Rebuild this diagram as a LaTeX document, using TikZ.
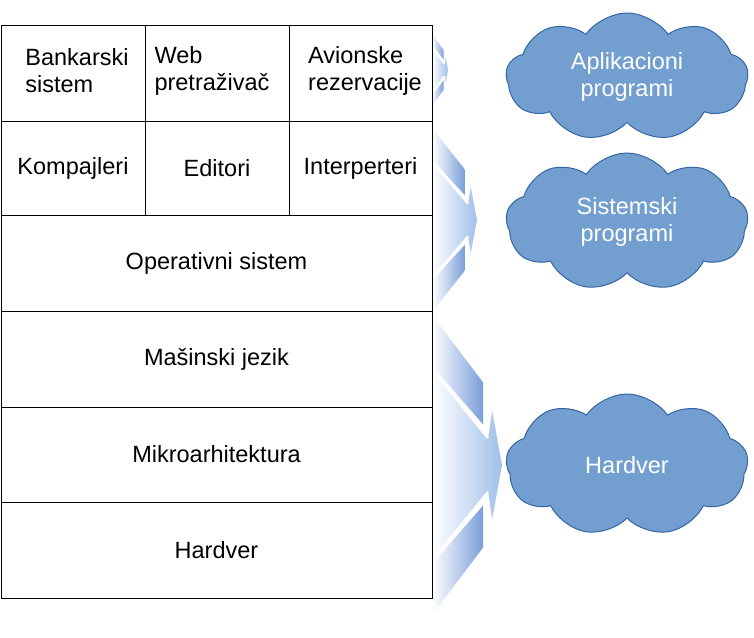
\documentclass[tikz,border=0pt]{standalone}
\usepackage{fontspec}
\setmainfont{Liberation Sans}
\usetikzlibrary{shapes.symbols}

\definecolor{oblakplava}{RGB}{114,159,207}
\definecolor{oblakivica}{RGB}{52,101,164}
\definecolor{strelsvetla}{RGB}{160,191,233}
\definecolor{streltamna}{RGB}{122,158,218}

\tikzset{
  natpis/.style={inner sep=0pt, align=center, font=\fontsize{23.5}{27}\selectfont},
  celija/.style={natpis, draw, line width=1pt},
  oblak/.style={cloud, cloud puffs=9, cloud puff arc=110, cloud ignores aspect,
    draw=oblakivica, line width=1pt, fill=oblakplava, text=white, align=center,
    font=\fontsize{23.5}{27}\selectfont}
}

\begin{document}
\begin{tikzpicture}[x=1pt,y=-1pt]
    \useasboundingbox (0,0) rectangle (754,637);
    % Draw the shaded arrows (middle y, half height, tip x)
    \foreach \ym/\H/\xa in {70/36/448, 220/92/477, 465/150/502} {
        \pgfmathsetmacro\L{\xa-432}
        \shade[left color=white, right color=streltamna] (432,{\ym-\H})
            -- ({432+.73*\L},{\ym-.55*\H}) -- ({432+.73*\L},{\ym-.27*\H})
            -- (432,{\ym-.66*\H}) -- cycle;
        \shade[left color=white, right color=streltamna] (432,{\ym+\H})
            -- ({432+.73*\L},{\ym+.55*\H}) -- ({432+.73*\L},{\ym+.27*\H})
            -- (432,{\ym+.66*\H}) -- cycle;
        \shade[left color=white, right color=strelsvetla] (432,{\ym-.64*\H})
            -- ({432+.8*\L},{\ym-.18*\H}) -- ({432+.86*\L},{\ym-.36*\H})
            -- (\xa,\ym) -- ({432+.86*\L},{\ym+.36*\H})
            -- ({432+.8*\L},{\ym+.18*\H}) -- (432,{\ym+.64*\H}) -- cycle;
        \draw[white, line width=2.5pt] (432,{\ym-.64*\H}) -- ({432+.8*\L},{\ym-.18*\H});
        \draw[white, line width=2.5pt] (432,{\ym+.64*\H}) -- ({432+.8*\L},{\ym+.18*\H});
    }
    % Draw the layers
    \draw[line width=1pt] (1,25) rectangle (432,121);
    \draw[line width=1pt] (145,25) -- (145,121) (289,25) -- (289,121);
    \node[natpis, align=left] (banka) at (77,71) {Bankarski\\sistem};
    \node[natpis, align=left] (web) at (212,71) {Web\\pretraživač};
    \node[natpis, align=left] (avion) at (365,71) {Avionske\\rezervacije};
    \node[celija, minimum width=144pt, minimum height=94pt] (kompajleri)
        at (73,168) {Kompajleri};
    \node[celija, minimum width=144pt, minimum height=94pt] (editori)
        at (217,168) {Editori};
    \node[celija, minimum width=143pt, minimum height=94pt] (interpreteri)
        at (360.5,168) {Interperteri};
    \node[celija, minimum width=431pt, minimum height=96pt] (os)
        at (216.5,263) {Operativni sistem};
    \node[celija, minimum width=431pt, minimum height=96pt] (masinski)
        at (216.5,359) {Mašinski jezik};
    \node[celija, minimum width=431pt, minimum height=95pt] (mikro)
        at (216.5,454.5) {Mikroarhitektura};
    \node[celija, minimum width=431pt, minimum height=96pt] (hardver)
        at (216.5,550) {Hardver};
    % Draw the clouds
    \node[oblak, minimum width=242pt, minimum height=128pt] (aplikacioni)
        at (627,77) {Aplikacioni\\programi};
    \node[oblak, minimum width=242pt, minimum height=138pt] (sistemski)
        at (627,222) {Sistemski\\programi};
    \node[oblak, minimum width=242pt, minimum height=142pt] (hw)
        at (627,465) {Hardver};
\end{tikzpicture}
\end{document}
